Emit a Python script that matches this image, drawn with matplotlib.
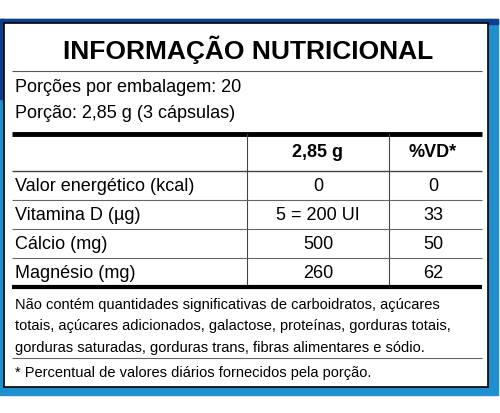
import matplotlib
matplotlib.use("Agg")
import matplotlib.pyplot as plt
from matplotlib.patches import Rectangle

title = "INFORMAÇÃO NUTRICIONAL"
serving_lines = ["Porções por embalagem: 20", "Porção: 2,85 g (3 cápsulas)"]
col_headers = ["2,85 g", "%VD*"]
nutrients = ["Valor energético (kcal)", "Vitamina D (µg)", "Cálcio (mg)", "Magnésio (mg)"]
amounts = ["0", "5 = 200 UI", "500", "260"]
vd = ["0", "33", "50", "62"]
notes = ["Não contém quantidades significativas de carboidratos, açúcares",
         "totais, açúcares adicionados, galactose, proteínas, gorduras totais,",
         "gorduras saturadas, gorduras trans, fibras alimentares e sódio."]
footnote = "* Percentual de valores diários fornecidos pela porção."

plt.rcParams['font.family'] = ['Liberation Sans', 'DejaVu Sans']
fig = plt.figure(figsize=(5, 4.14), dpi=100)
ax = fig.add_axes([0, 0, 1, 1])
ax.set_xlim(0, 500); ax.set_ylim(414, 0); ax.axis('off')

# blue frame
ax.add_patch(Rectangle((0, 20), 498, 376, color='#1f8fd0', zorder=0))
ax.add_patch(Rectangle((0, 20), 498, 5, color='#0d3f8f', zorder=1))
ax.add_patch(Rectangle((0, 20), 4, 80, color='#0d3f8f', zorder=1))
ax.add_patch(Rectangle((4, 24), 484, 364, facecolor='white', edgecolor='black', lw=1.2, zorder=2))

def hline(y, lw, c='black', x0=12, x1=482):
    ax.plot([x0, x1], [y, y], color=c, lw=lw, zorder=3, solid_capstyle='butt')

ax.text(248, 50, title, ha='center', va='center', fontsize=19, fontweight='bold', zorder=4)
hline(72, 0.8, '#555555')
for i, s in enumerate(serving_lines):
    ax.text(15, 88 + 26 * i, s, ha='left', va='center', fontsize=13, zorder=4)
hline(135, 3.5)
ax.plot([247, 247], [135, 288], color='#444444', lw=0.8, zorder=3)
ax.plot([389, 389], [135, 288], color='#444444', lw=0.8, zorder=3)
ax.text(318, 153, col_headers[0], ha='center', va='center', fontsize=13, fontweight='bold', zorder=4)
ax.text(433, 153, col_headers[1], ha='center', va='center', fontsize=13, fontweight='bold', zorder=4)
hline(172, 1.0, '#444444')
row_h = 29
for i, (n, a, v) in enumerate(zip(nutrients, amounts, vd)):
    yc = 172 + row_h * (i + 0.5)
    ax.text(15, yc, n, ha='left', va='center', fontsize=13, zorder=4)
    ax.text(318, yc, a, ha='center', va='center', fontsize=13, zorder=4)
    ax.text(433, yc, v, ha='center', va='center', fontsize=13, zorder=4)
    if i < len(nutrients) - 1:
        hline(172 + row_h * (i + 1), 0.8, '#666666')
hline(288, 3.0)
for i, s in enumerate(notes):
    ax.text(15, 305 + 21.5 * i, s, ha='left', va='center', fontsize=10.5, zorder=4)
hline(359, 0.8, '#666666')
ax.text(15, 373, footnote, ha='left', va='center', fontsize=10.5, zorder=4)

fig.savefig("out.png", dpi=100)
